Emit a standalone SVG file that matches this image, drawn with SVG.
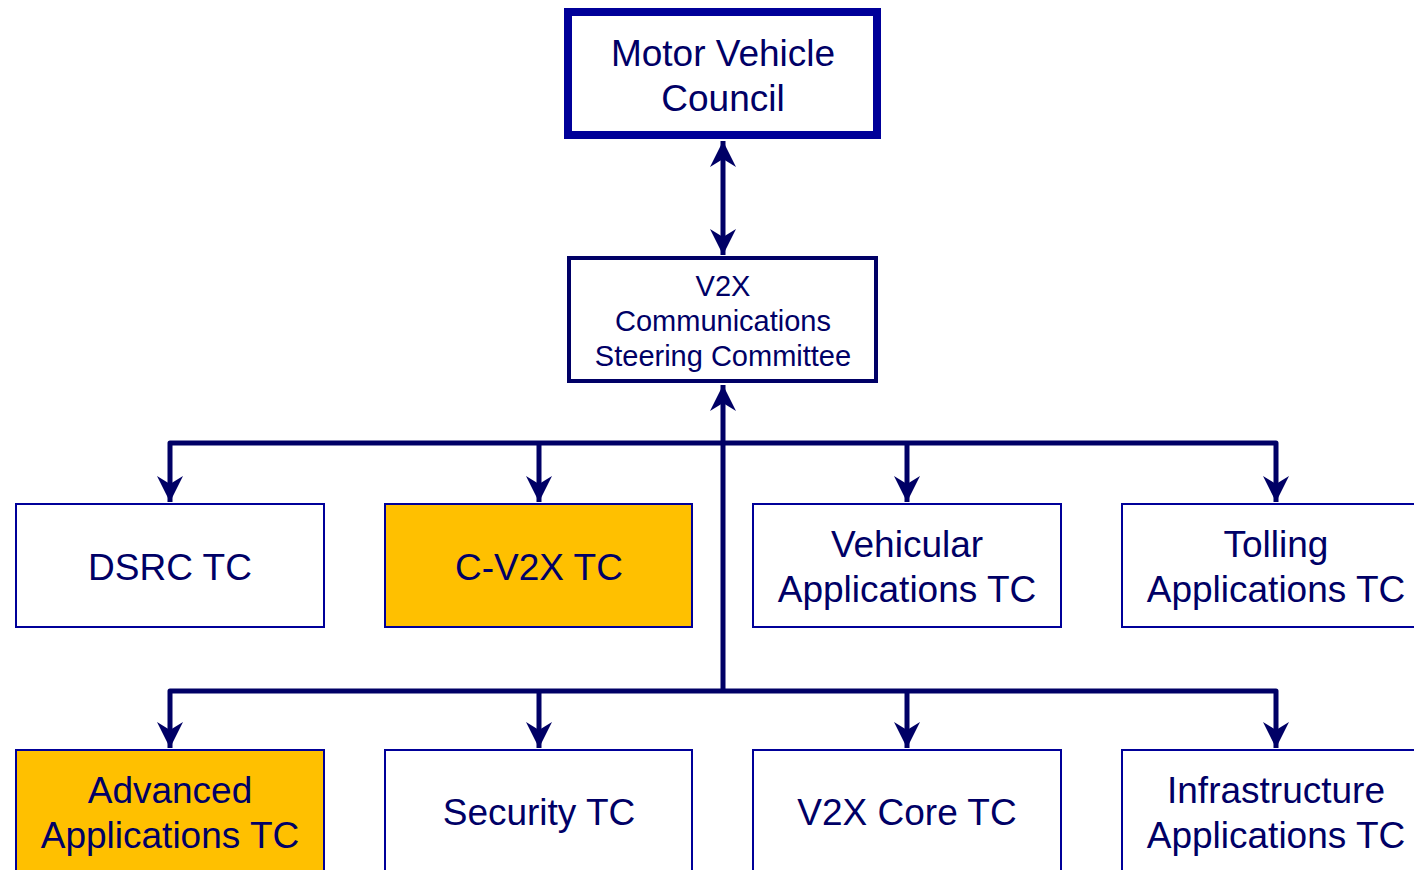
<svg xmlns="http://www.w3.org/2000/svg" width="1414" height="870" viewBox="0 0 1414 870">
<style>
.box{fill:#fff;stroke:#000099;stroke-width:2}
.hi{fill:#FFC000}
.t{font-family:"Liberation Sans",Arial,sans-serif;fill:#000066;text-anchor:middle}
.big{font-size:37px}
.mid{font-size:29px}
.c{fill:none;stroke:#000066;stroke-width:5;stroke-linejoin:round}
</style>
<defs>
<marker id="ah" markerUnits="userSpaceOnUse" markerWidth="28" markerHeight="28" viewBox="0 0 28 28" refX="26" refY="14" orient="auto-start-reverse">
<path d="M0,1 L26,14 L0,27 L8,14 z" fill="#000066"/>
</marker>
</defs>
<g id="connectors">
<path class="c" d="M723,141 V255" marker-start="url(#ah)" marker-end="url(#ah)"/>
<path class="c" d="M723,691 V385" marker-end="url(#ah)"/>
<path class="c" d="M170,502 V443 H1276 V502" marker-start="url(#ah)" marker-end="url(#ah)"/>
<path class="c" d="M539,443 V502" marker-end="url(#ah)"/>
<path class="c" d="M907,443 V502" marker-end="url(#ah)"/>
<path class="c" d="M170,748 V691 H1276 V748" marker-start="url(#ah)" marker-end="url(#ah)"/>
<path class="c" d="M539,691 V748" marker-end="url(#ah)"/>
<path class="c" d="M907,691 V748" marker-end="url(#ah)"/>
</g>
<g id="motor-vehicle-council">
<rect x="568" y="12" width="309" height="123" fill="#fff" stroke="#000099" stroke-width="8"/>
<text class="t big" x="723" y="66">Motor Vehicle</text>
<text class="t big" x="723" y="111">Council</text>
</g>
<g id="v2x-steering">
<rect x="569" y="258" width="307" height="123" fill="#fff" stroke="#000066" stroke-width="4"/>
<text class="t mid" x="723" y="296">V2X</text>
<text class="t mid" x="723" y="331">Communications</text>
<text class="t mid" x="723" y="366">Steering Committee</text>
</g>
<g id="dsrc-tc">
<rect class="box" x="16" y="504" width="308" height="123"/>
<text class="t big" x="170" y="580">DSRC TC</text>
</g>
<g id="cv2x-tc">
<rect class="box hi" x="385" y="504" width="307" height="123"/>
<text class="t big" x="539" y="580">C-V2X TC</text>
</g>
<g id="vehicular-tc">
<rect class="box" x="753" y="504" width="308" height="123"/>
<text class="t big" x="907" y="557">Vehicular</text>
<text class="t big" x="907" y="602">Applications TC</text>
</g>
<g id="tolling-tc">
<rect class="box" x="1122" y="504" width="308" height="123"/>
<text class="t big" x="1276" y="557">Tolling</text>
<text class="t big" x="1276" y="602">Applications TC</text>
</g>
<g id="advanced-tc">
<rect class="box hi" x="16" y="750" width="308" height="130"/>
<text class="t big" x="170" y="803">Advanced</text>
<text class="t big" x="170" y="848">Applications TC</text>
</g>
<g id="security-tc">
<rect class="box" x="385" y="750" width="307" height="130"/>
<text class="t big" x="539" y="825">Security TC</text>
</g>
<g id="v2x-core-tc">
<rect class="box" x="753" y="750" width="308" height="130"/>
<text class="t big" x="907" y="825">V2X Core TC</text>
</g>
<g id="infrastructure-tc">
<rect class="box" x="1122" y="750" width="308" height="130"/>
<text class="t big" x="1276" y="803">Infrastructure</text>
<text class="t big" x="1276" y="848">Applications TC</text>
</g>
</svg>
